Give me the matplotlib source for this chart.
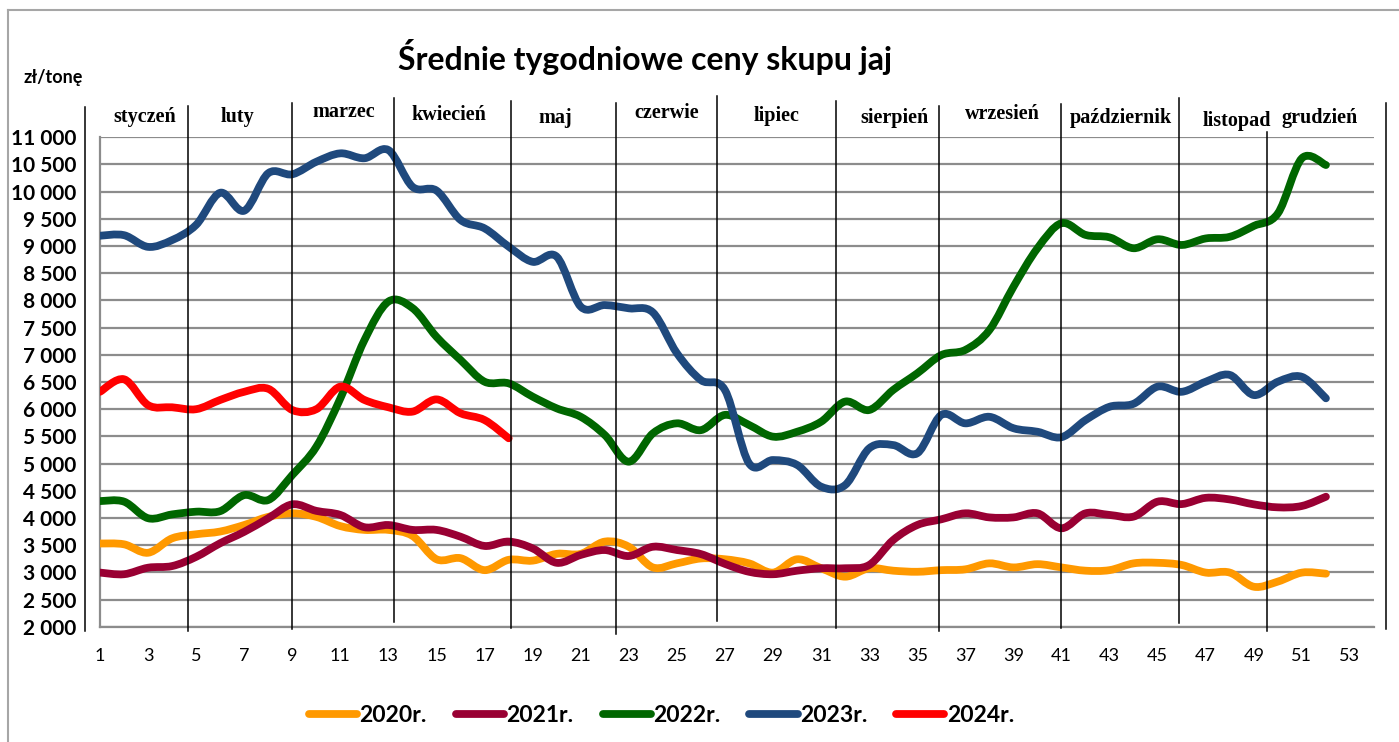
# Średnie tygodniowe ceny skupu jaj - recreation

# Libraries
import numpy as np
import matplotlib
matplotlib.use("Agg")
import matplotlib.pyplot as plt
from matplotlib.path import Path
from matplotlib.patches import PathPatch
from matplotlib.lines import Line2D


# Data
weeks = list(range(1, 53))
weeks_2024 = list(range(1, 19))

y2020 = [3530, 3515, 3360, 3625, 3700, 3750, 3870, 4020, 4085, 4020,
         3850, 3780, 3780, 3670, 3240, 3260, 3040, 3230, 3215, 3340,
         3340, 3565, 3470, 3090, 3165, 3255, 3240, 3165, 2995, 3240,
         3075, 2920, 3075, 3030, 3010, 3040, 3055, 3165, 3090, 3150,
         3090, 3030, 3040, 3165, 3175, 3135, 2995, 2995, 2735, 2830,
         2995, 2975]
y2021 = [2995, 2965, 3085, 3115, 3285, 3535, 3745, 3995, 4250, 4130,
         4055, 3830, 3870, 3780, 3780, 3655, 3485, 3565, 3440, 3175,
         3320, 3410, 3300, 3470, 3410, 3335, 3155, 3010, 2965, 3030,
         3075, 3075, 3135, 3595, 3870, 3975, 4085, 4010, 4010, 4085,
         3810, 4085, 4055, 4025, 4300, 4255, 4370, 4340, 4250, 4195,
         4220, 4390]
y2022 = [4310, 4300, 3995, 4065, 4115, 4125, 4420, 4330, 4790, 5310,
         6200, 7270, 7980, 7860, 7330, 6905, 6505, 6475, 6230, 6015,
         5860, 5525, 5035, 5555, 5740, 5615, 5895, 5710, 5495, 5585,
         5770, 6140, 5985, 6355, 6660, 6995, 7090, 7455, 8250, 8960,
         9420, 9205, 9160, 8960, 9125, 9020, 9140, 9170, 9370, 9600,
         10615, 10490]
y2023 = [9190, 9200, 8985, 9110, 9390, 9980, 9650, 10340, 10320, 10550,
         10705, 10615, 10765, 10090, 10020, 9480, 9325, 8990, 8710, 8805,
         7885, 7915, 7855, 7780, 7030, 6535, 6350, 5005, 5065, 4975,
         4575, 4605, 5280, 5340, 5190, 5895, 5740, 5860, 5650, 5585,
         5485, 5800, 6045, 6100, 6415, 6320, 6505, 6630, 6260, 6505,
         6595, 6200]
y2024 = [6320, 6550, 6075, 6035, 6000, 6170, 6320, 6375, 5985, 6000,
         6415, 6170, 6035, 5955, 6180, 5925, 5800, 5465]

series_labels = ["2020r.", "2021r.", "2022r.", "2023r.", "2024r."]
series_colors = ["#FF9900", "#990033", "#006600", "#1F497D", "#FF0000"]

months = ["styczeń", "luty", "marzec", "kwiecień", "maj", "czerwie",
          "lipiec", "sierpień", "wrzesień", "październik", "listopad", "grudzień"]

# Layout (week position of month labels / dividers, not data)
month_x = [2.87, 6.70, 11.15, 15.52, 19.93, 24.59, 29.16, 34.07, 38.56, 43.47, 48.30, 51.75]
month_y = [11373, 11373, 11465, 11410, 11355, 11447, 11391, 11355, 11428, 11355, 11300, 11355]
divider_x = [0.38, 4.67, 8.99, 13.24, 18.08, 22.47, 26.65, 31.60, 35.91, 40.99, 45.87, 49.53, 54.52]
divider_top = [11560, 11575, 11630, 11720, 11670, 11630, 11760, 11670, 11575, 11610, 11720, 11100, 11630]
divider_bot = [1930, 1930, 1965, 2080, 1975, 1870, 2100, 1975, 1930, 1975, 2060, 1930, 1965]


# Functions
def smooth_path(x, y):
    """Excel-like smoothed line as cubic Bezier path through the points."""
    pts = np.column_stack([x, y]).astype(float)
    n = len(pts)
    verts = [pts[0]]
    codes = [Path.MOVETO]
    for i in range(n - 1):
        p0 = pts[i - 1] if i > 0 else pts[i]
        p1 = pts[i]
        p2 = pts[i + 1]
        p3 = pts[i + 2] if i + 2 < n else pts[i + 1]
        verts += [p1 + (p2 - p0) / 6, p2 - (p3 - p1) / 6, p2]
        codes += [Path.CURVE4] * 3
    return Path(verts, codes)


# RC Params
plt.rcParams["font.family"] = ["Lato", "DejaVu Sans"]

# Figure
W, H = 1399, 742
fig = plt.figure(figsize=[W / 100, H / 100], dpi=100)
ax = fig.add_axes([100 / W, 1 - 626.7 / H, 1274 / W, 489.4 / H])

series = [(weeks, y2020), (weeks, y2021), (weeks, y2022), (weeks, y2023), (weeks_2024, y2024)]
for (xs, ys), c in zip(series, series_colors):
    patch = PathPatch(smooth_path(xs, ys), fill=False, edgecolor=c, lw=5.6,
                      capstyle="round", joinstyle="round", zorder=3)
    ax.add_patch(patch)

ax.set_xlim(1, 54)
ax.set_ylim(2000, 11000)

ax.set_xticks(range(1, 54, 2))
ax.set_xticklabels([str(v) for v in range(1, 54, 2)], fontsize=13)
yt = list(range(2000, 11001, 500))
ax.set_yticks(yt)
ax.set_yticklabels([f"{v:,}".replace(",", " ") for v in yt], fontsize=15, fontweight="bold")
ax.tick_params(length=0)
ax.tick_params(axis="y", pad=17)
ax.tick_params(axis="x", pad=15)

ax.yaxis.grid(True, color="#8c8c8c", lw=1.6)
ax.set_axisbelow(True)
ax.spines.right.set_visible(False)
ax.spines.top.set_visible(False)
ax.spines.left.set_color("#8c8c8c")
ax.spines.bottom.set_color("#8c8c8c")
ax.spines.left.set_linewidth(1.6)
ax.spines.bottom.set_linewidth(1.6)

# Month dividers and labels
for x, t, b in zip(divider_x, divider_top, divider_bot):
    ax.plot([x, x], [b, t], color="black", lw=1.1, clip_on=False, zorder=4)
for m, x, y in zip(months, month_x, month_y):
    ax.text(x, y, m, ha="center", va="center", fontsize=14.5, fontweight="bold",
            family="Liberation Serif", clip_on=False)

# Title and unit
fig.text(645 / W, 1 - 57 / H, "Średnie tygodniowe ceny skupu jaj",
         ha="center", va="center", fontsize=23, fontweight="bold")
fig.text(53 / W, 1 - 78 / H, "zł/tonę", ha="center", va="center",
         fontsize=13, fontweight="bold")

# Outer frame
fig.add_artist(Line2D([8 / W, 1], [1 - 10 / H, 1 - 10 / H], color="#a6a6a6", lw=1.5))
fig.add_artist(Line2D([8 / W, 8 / W], [0, 1 - 10 / H], color="#a6a6a6", lw=1.5))

# Legend
handles = [Line2D([0], [0], color=c, lw=5.6, solid_capstyle="round") for c in series_colors]
fig.legend(handles, series_labels, loc="center", bbox_to_anchor=(661.5 / W, 1 - 716 / H),
           ncol=5, frameon=False, prop={"weight": "bold", "size": 16.5},
           handlelength=2.1, handletextpad=0.1, columnspacing=1.27)

fig.savefig("out.png", dpi=100)
plt.close(fig)
